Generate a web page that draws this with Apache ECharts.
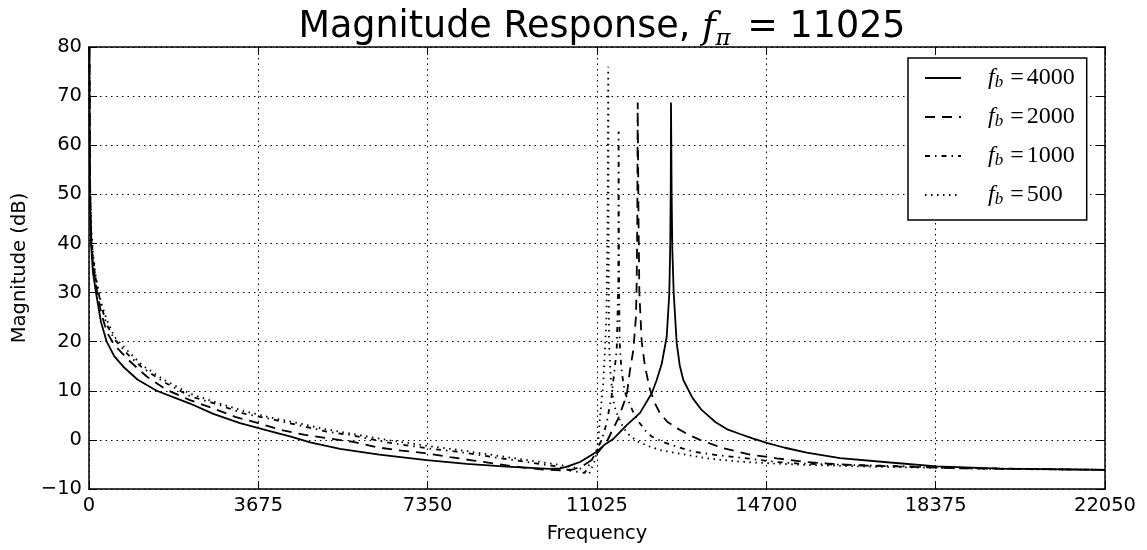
<!DOCTYPE html>
<html>
<head>
<meta charset="utf-8">
<script src="https://cdn.jsdelivr.net/npm/echarts@6/dist/echarts.min.js"></script>
<style>
html, body { margin: 0; padding: 0; background: #fff; }
#chart { width: 1147px; height: 550px; }
</style>
</head>
<body>
<div id="chart"></div>
<script>
// bandwidth of each curve (legend order)
var bandwidths = [4000, 2000, 1000, 500];
var xTicks = [0, 3675, 7350, 11025, 14700, 18375, 22050];
var yTicks = [-10, 0, 10, 20, 30, 40, 50, 60, 70, 80];

// [frequency, dB]
var curve4000 = [[8,80],[22,50],[43,40],[87,34],[152,30],[260,24],[384,20],[550,17],[745,14.9],[1050,12.3],[1469,10],[2192,7.4],[2698,5.3],[3277,3.4],[3965,1.7],[4400,0.6],[4800,-0.5],[5447,-1.85],[6300,-3.0],[7328,-4.1],[8200,-4.9],[9064,-5.46],[10004,-5.9],[10222,-5.8],[10360,-5.5],[10511,-5.0],[10656,-4.5],[10800,-3.7],[11018,-2.4],[11200,-0.9],[11380,0.2],[11670,3.0],[11959,5.5],[12213,9.5],[12321,12.2],[12430,15.5],[12538,21],[12594,29.8],[12615,40],[12626,52],[12631,68.7],[12645,50],[12660,38.7],[12690,29.8],[12755,19.7],[12820,15.2],[12898,12.2],[13100,8.5],[13295,6.1],[13406,5.2],[13600,3.6],[13840,2.2],[14128,1.2],[14400,0.3],[14708,-0.6],[15100,-1.6],[15577,-2.6],[16300,-3.7],[17384,-4.6],[18398,-5.4],[19771,-5.85],[22050,-6.1]];
var curve2000 = [[8,80],[22,52],[43,42],[87,36],[152,31.5],[260,26],[384,22],[550,19.3],[853,16.3],[1251,12.9],[1686,10.2],[2192,8.1],[2698,6.4],[3169,4.7],[3675,3.4],[4182,2.0],[4688,1.0],[5194,0.3],[5737,-0.4],[6244,-1.5],[6786,-2.2],[7292,-2.7],[7835,-3.5],[8341,-4.2],[8848,-4.9],[9391,-5.6],[9934,-6.1],[10300,-6.2],[10510,-6.0],[10700,-5.4],[10910,-4.1],[11235,-0.4],[11488,4.4],[11670,9.1],[11741,14.2],[11813,18.3],[11871,25.1],[11886,31.9],[11900,45],[11908,68.7],[11926,45],[11944,30],[11995,20],[12067,14.9],[12176,10.2],[12280,7.5],[12393,5.4],[12550,3.7],[12755,2.4],[13000,1.1],[13261,0],[13766,-1.7],[14345,-3.0],[14925,-3.75],[15502,-4.45],[16153,-4.9],[16878,-5.25],[19000,-5.8],[22050,-6.1]];
var curve1000 = [[8,80],[22,53],[43,43],[87,37],[152,32.5],[260,27.5],[384,23.5],[550,20.5],[853,17.3],[1143,14.8],[1613,11.85],[2192,8.9],[2771,7.3],[3349,5.4],[3965,4.2],[4543,3.0],[5158,1.7],[5664,1.0],[6533,-0.6],[7329,-1.7],[7980,-2.4],[8703,-3.4],[9426,-4.4],[10150,-5.4],[10500,-6.4],[10760,-6.7],[10945,-3.5],[11127,0],[11235,3.4],[11344,9.1],[11453,18.3],[11488,31.9],[11492,45],[11494,62.8],[11500,40],[11505,30],[11517,19.7],[11550,15],[11596,11.5],[11650,9.2],[11741,7.2],[11813,5.6],[11900,4.0],[11995,2.9],[12100,1.6],[12213,0.7],[12450,-0.4],[12755,-1.4],[13115,-2.4],[13623,-3.1],[14274,-3.75],[14852,-4.45],[15359,-4.8],[16444,-5.1],[17384,-5.3],[19500,-5.8],[22050,-6.1]];
var curve500 = [[8,80],[22,54],[43,44],[87,38],[152,33],[260,28],[384,24.5],[550,21],[853,18],[1143,15.3],[1613,12.3],[2192,9.4],[2771,7.6],[3349,5.9],[3965,4.5],[4543,3.4],[5158,2.1],[5664,1.3],[6533,-0.1],[7329,-1.2],[7980,-2.0],[8703,-3.0],[9426,-4.0],[10150,-5.0],[10656,-5.8],[10850,-7.0],[10990,-4.0],[11054,0],[11090,4.7],[11162,11.5],[11230,25],[11255,45],[11269,76],[11275,45],[11285,19.7],[11320,13],[11380,8.1],[11430,6],[11488,4.7],[11600,2.4],[11741,0.8],[11922,-0.4],[12176,-1.4],[12393,-2.06],[12755,-2.7],[13007,-3.1],[13406,-3.75],[14128,-4.45],[14852,-4.8],[15577,-5.1],[17022,-5.46],[19500,-5.9],[22050,-6.1]];

var curves = [curve4000, curve2000, curve1000, curve500];
var dashes = ['solid', [10, 7], [5, 5, 1.5, 5], [1.5, 4.5]];

var myChart = echarts.init(document.getElementById('chart'), null, { renderer: 'canvas' });

var labelFont = 'DejaVu Sans';
function axisBase(min, max, step) {
	return {
		type: 'value',
		min: min,
		max: max,
		interval: step,
		axisLine: { show: true, onZero: false, lineStyle: { color: '#000', width: 1.5 } },
		axisTick: { show: true, inside: true, length: 8, lineStyle: { color: '#000', width: 1 } },
		splitLine: { show: false },
		axisLabel: { show: false }
	};
}

// 系列
var series = [];
for (var i = 0; i < bandwidths.length; i++) {
	series.push({
		name: 'fb=' + bandwidths[i],
		type: 'line',
		data: curves[i],
		showSymbol: false,
		symbol: 'none',
		clip: true,
		lineStyle: { color: '#000', width: 1.8, type: dashes[i] },
		itemStyle: { color: '#000' },
		z: 10 - i
	});
}

var xMain = axisBase(xTicks[0], xTicks[xTicks.length - 1], 3675);
xMain.position = 'bottom';
xMain.axisLabel = { show: true, margin: 7, color: '#000', fontFamily: labelFont, fontSize: 19.5,
	formatter: function(v) { return String(v); } };
xMain.splitLine = { show: true, lineStyle: { color: '#000', width: 1, type: [1.5, 4] } };
xMain.name = 'Frequency';
xMain.nameLocation = 'middle';
xMain.nameGap = 35;
xMain.nameTextStyle = { color: '#000', fontFamily: labelFont, fontSize: 19.5 };

var xTop = axisBase(xTicks[0], xTicks[xTicks.length - 1], 3675);
xTop.position = 'top';

var yMain = axisBase(yTicks[0], yTicks[yTicks.length - 1], 10);
yMain.position = 'left';
yMain.axisLabel = { show: true, margin: 7, color: '#000', fontFamily: labelFont, fontSize: 19.5,
	formatter: function(v) { return String(v).replace('-', '\u2212'); } };
yMain.splitLine = { show: true, lineStyle: { color: '#000', width: 1, type: [1.5, 4] } };
yMain.name = 'Magnitude (dB)';
yMain.nameLocation = 'middle';
yMain.nameGap = 58;
yMain.nameTextStyle = { color: '#000', fontFamily: labelFont, fontSize: 19.5 };

var yRight = axisBase(yTicks[0], yTicks[yTicks.length - 1], 10);
yRight.position = 'right';

var option = {
	animation: false,
	backgroundColor: '#fff',
	title: {
		text: '{a|Magnitude Response, }{f|f}{p|\u03c0}{a| = 11025}',
		left: 597,
		top: 0,
		textAlign: 'center',
		textStyle: {
			fontWeight: 'normal',
			rich: {
				a: { fontFamily: labelFont, fontWeight: 'normal', fontSize: 36.5, lineHeight: 46, color: '#000' },
				f: { fontFamily: 'DejaVu Serif', fontWeight: 'normal', fontStyle: 'italic', fontSize: 37, lineHeight: 46, color: '#000' },
				p: { fontFamily: 'DejaVu Serif', fontWeight: 'normal', fontStyle: 'italic', fontSize: 23, lineHeight: 23, verticalAlign: 'bottom', color: '#000', padding: [0, 5, 0, 0] }
			}
		}
	},
	legend: {
		show: true,
		orient: 'vertical',
		left: 908,
		top: 58,
		padding: [8, 12, 12, 16],
		itemGap: 14,
		itemWidth: 36,
		itemHeight: 14,
		borderColor: '#000',
		borderWidth: 1.5,
		borderRadius: 0,
		backgroundColor: '#fff',
		itemStyle: { opacity: 0 },
		data: series.map(function(s) { return s.name; }),
		formatter: function(name) {
			return '{f|f}{b|b}{e|=}{v|' + name.split('=')[1] + '}';
		},
		textStyle: {
			color: '#000',
			rich: {
				f: { fontFamily: 'Liberation Serif', fontStyle: 'italic', fontSize: 24, lineHeight: 26, padding: [0, 0, 0, 22] },
				b: { fontFamily: 'Liberation Serif', fontStyle: 'italic', fontSize: 17, lineHeight: 17, verticalAlign: 'bottom' },
				e: { fontFamily: 'Liberation Serif', fontSize: 24, lineHeight: 26, padding: [0, 3, 0, 7] },
				v: { fontFamily: 'Liberation Serif', fontSize: 24, lineHeight: 26 }
			}
		}
	},
	grid: { left: 89, right: 42, top: 47, bottom: 61, containLabel: false, outerBoundsMode: 'none' },
	xAxis: [xMain, xTop],
	yAxis: [yMain, yRight],
	series: series
};
myChart.setOption(option);
window.onresize = myChart.resize;
</script>
</body>
</html>
